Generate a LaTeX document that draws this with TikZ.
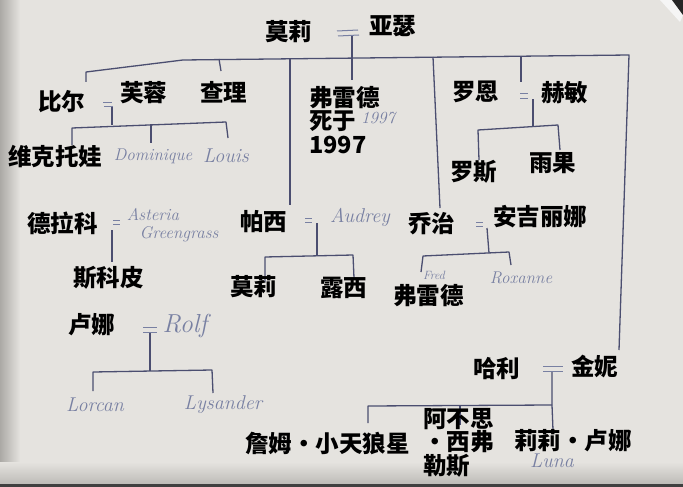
\documentclass[tikz,border=0pt]{standalone}
\usepackage{fontspec}
\newfontfamily\cjk{Noto Sans CJK SC}
\definecolor{paper}{HTML}{E5E3DF}
\definecolor{paperdark}{HTML}{ABA9A5}
\definecolor{paperbot}{HTML}{BDBBB7}
\definecolor{ink}{HTML}{4B4E70}
\definecolor{hwc}{HTML}{7880A2}
\tikzset{
  ln/.style={draw=ink, line width=1.3pt, line join=round},
  eq/.style={draw=hwc, line width=1pt},
  cn/.style={font=\cjk\bfseries\fontsize{23.5}{23.5}\selectfont, text=black, inner sep=0pt, anchor=west},
  cnm/.style={font=\cjk\bfseries\fontsize{23.5}{23.5}\selectfont, text=black, inner sep=0pt, anchor=north west, align=left},
  hw/.style={font=\itshape\fontsize{17}{17}\selectfont, text=hwc, inner sep=0pt},
  hwbig/.style={hw, font=\itshape\fontsize{20}{20}\selectfont},
}
\begin{document}
\begin{tikzpicture}[x=1pt,y=-1pt]
\useasboundingbox (0,0) rectangle (683,487);
% paper
\fill[paper] (0,0) rectangle (683,487);
\shade[left color=paperdark, right color=paper] (0,0) rectangle (20,487);
\shade[top color=paper, bottom color=paperbot] (0,462) rectangle (683,484);
\fill[black!75] (0,484) rectangle (683,487);
\fill[gray!8] (660,0) -- (672,0) -- (683,15) -- (680,22) -- cycle;
\fill[black!85] (672,0) -- (683,0) -- (683,15) -- cycle;

% junction coordinates
\coordinate (billtop) at (86,82);
\coordinate (barL) at (86,72);
\coordinate (barK) at (183,60);
\coordinate (barR) at (629,55);
\coordinate (ginnytop) at (619,350);
\coordinate (chA) at (219,59); \coordinate (chB) at (221,71);
\coordinate (peA) at (290,59); \coordinate (peB) at (290,205);
\coordinate (frA) at (352,36); \coordinate (frB) at (352,80);
\coordinate (geA) at (433,57); \coordinate (geB) at (440,208);
\coordinate (roA) at (521,57); \coordinate (roB) at (521,82);
% Bill = Fleur children
\coordinate (bfA) at (112,106); \coordinate (bfB) at (112,125);
\coordinate (bfL) at (72,128); \coordinate (bfR) at (226,122);
\coordinate (bfM) at (151,124);
% Ron = Hermione children
\coordinate (rhA) at (533,99); \coordinate (rhB) at (533,127);
\coordinate (rhL) at (478,130); \coordinate (rhR) at (558,125);
% Draco
\coordinate (dcA) at (112,230); \coordinate (dcB) at (112,262);
% Percy = Audrey
\coordinate (paA) at (317,223); \coordinate (paB) at (317,256);
\coordinate (paL) at (265,257); \coordinate (paR) at (353,255);
% George = Angelina
\coordinate (gaA) at (487,228); \coordinate (gaB) at (489,253);
\coordinate (gaL) at (423,256); \coordinate (gaR) at (509,252);
% Luna = Rolf
\coordinate (lrA) at (150,332); \coordinate (lrB) at (150,371);
\coordinate (lrL) at (93,372); \coordinate (lrR) at (212,370);
% Harry = Ginny
\coordinate (hgA) at (552,372); \coordinate (hgB) at (552,405); \coordinate (hgC) at (553,430);
\coordinate (hgL) at (368,406); \coordinate (hgM) at (460,405);

% lines
\draw[ln] (billtop) -- (barL) -- (barK) -- (barR) -- (ginnytop);
\draw[ln] (chA) -- (chB);
\draw[ln] (peA) -- (peB);
\draw[ln] (frA) -- (frB);
\draw[ln] (geA) -- (geB);
\draw[ln] (roA) -- (roB);
\draw[ln] (bfA) -- (bfB);
\draw[ln] (72,145) -- (bfL) -- (bfR) -- (228,138);
\draw[ln] (bfM) -- (151,143);
\draw[ln] (rhA) -- (rhB);
\draw[ln] (479,160) -- (rhL) -- (rhR) -- (560,150);
\draw[ln] (dcA) -- (dcB);
\draw[ln] (paA) -- (paB);
\draw[ln] (265,282) -- (paL) -- (paR) -- (354,278);
\draw[ln] (gaA) -- (gaB);
\draw[ln] (421,272) -- (gaL) -- (gaR) -- (511,265);
\draw[ln] (lrA) -- (lrB);
\draw[ln] (93,391) -- (lrL) -- (lrR) -- (213,393);
\draw[ln] (hgA) -- (hgB) -- (hgC);
\draw[ln] (368,423) -- (hgL) -- (hgB);
\draw[ln] (hgM) -- (460,425);

% hand-drawn equals signs of the couples
\draw[eq] (337,31) -- (358,30) (338,36) -- (359,35);
\draw[eq] (103,102) -- (112,102) (104,106) -- (113,106);
\draw[eq] (113,220) -- (120,220) (113,224) -- (120,224);
\draw[eq] (305,218) -- (312,218) (305,222) -- (312,222);
\draw[eq] (476,222) -- (483,222) (476,226) -- (483,226);
\draw[eq] (520,94) -- (528,94) (520,98) -- (528,98);
\draw[eq] (143,327) -- (157,327) (143,332) -- (157,332);
\draw[eq] (543,366) -- (563,366) (543,371) -- (563,371);

% handwritten English
\node[hw] (h1997) at (378,118) {1997};
\node[hw] (hdom) at (153,156) {Dominique};
\node[hwbig] (hlouis) at (226,156) {Louis};
\node[hw] (hast) at (153,215) {Asteria};
\node[hw] (hgreen) at (179,234) {Greengrass};
\node[hwbig] (haud) at (360,217) {Audrey};
\node[hw, font=\itshape\fontsize{12}{12}\selectfont] (hfred) at (434,275) {Fred};
\node[hw] (hrox) at (521,278) {Roxanne};
\node[hw, font=\itshape\fontsize{26}{26}\selectfont] (hrolf) at (185,326) {Rolf};
\node[hwbig] (hlorcan) at (95,405) {Lorcan};
\node[hwbig] (hlys) at (223,405) {Lysander};
\node[hwbig] (hlunab) at (552,461) {Luna};

% Chinese labels
\node[cn] (molly) at (265,32) {莫莉};
\node[cn] (arthur) at (369,26) {亚瑟};
\node[cn] (bill) at (38,102) {比尔};
\node[cn] (fleur) at (120,93) {芙蓉};
\node[cn] (charlie) at (200,92) {查理};
\node[cnm] (fred) at (309,86) {弗雷德\\死于\\1997};
\node[cn] (victoire) at (8,157) {维克托娃};
\node[cn] (draco) at (27,223) {德拉科};
\node[cn] (percy) at (240,222) {帕西};
\node[cn] (ron) at (452,92) {罗恩};
\node[cn] (hermione) at (541,93) {赫敏};
\node[cn] (rose) at (450,172) {罗斯};
\node[cn] (hugo) at (529,163) {雨果};
\node[cn] (george) at (408,224) {乔治};
\node[cn] (angelina) at (493,217) {安吉丽娜};
\node[cn] (scorpius) at (73,278) {斯科皮};
\node[cn] (luna) at (68,325) {卢娜};
\node[cn] (molly2) at (230,287) {莫莉};
\node[cn] (lucy) at (320,288) {露西};
\node[cn] (fred2) at (393,296) {弗雷德};
\node[cn] (harry) at (473,369) {哈利};
\node[cn] (ginny) at (571,367) {金妮};
\node[cn] (james) at (245,444) {詹姆・小天狼星};
\node[cnm] (albus) at (423,408) {阿不思\\・西弗\\勒斯};
\node[cn] (lily) at (514,441) {莉莉・卢娜};
\end{tikzpicture}
\end{document}
